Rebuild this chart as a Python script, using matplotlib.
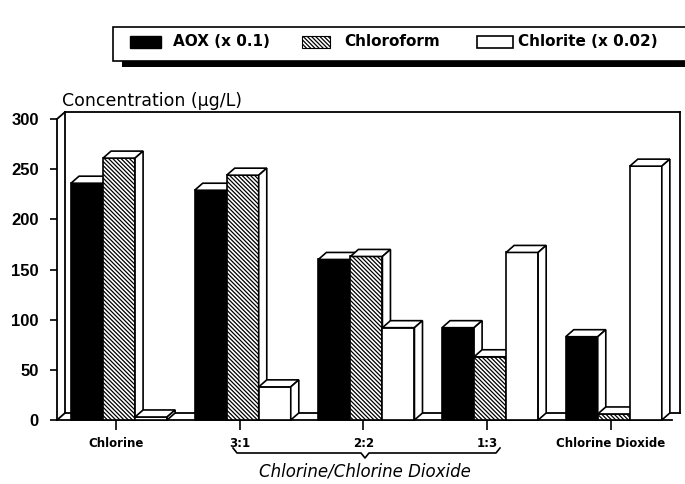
import numpy as np
import matplotlib
matplotlib.use("Agg")
import matplotlib.pyplot as plt
from matplotlib.patches import Polygon, Rectangle

plt.rcParams['font.family'] = ['DejaVu Sans']
plt.rcParams['hatch.linewidth'] = 0.9

# data
categories = ['Chlorine', '3:1', '2:2', '1:3', 'Chlorine Dioxide']
aox = [236, 229, 160, 92, 83]           # AOX (x 0.1)
chloroform = [261, 244, 163, 63, 6]
chlorite = [3, 33, 92, 167, 253]         # Chlorite (x 0.02)
series_names = ['AOX (x 0.1)', 'Chloroform', 'Chlorite (x 0.02)']

fig = plt.figure(figsize=(6.85, 4.84), dpi=100)
ax = fig.add_axes([57/685, 64/484, 623/685, 301/484])

x = np.arange(len(categories))
w = 0.259
ddx = 0.065   # 3d depth offset (x, data units)
ddy = 7.0     # 3d depth offset (y)
x0, x1 = -0.477, 4.56
ax.set_xlim(x0, x1)
ax.set_ylim(0, 300)

hatch = '\\\\\\\\\\\\\\\\'
styles = [dict(color='black', hatch=None),
          dict(color='white', hatch=hatch),
          dict(color='white', hatch=None)]

for j, vals in enumerate([aox, chloroform, chlorite]):
    lefts = x - 0.364 + j * w
    st = styles[j]
    ax.bar(lefts, vals, width=w, align='edge', color=st['color'],
           edgecolor='black', hatch=st['hatch'], linewidth=1.2,
           zorder=3 + j, clip_on=False)
    for l, h in zip(lefts, vals):
        top = Polygon([(l, h), (l + w, h), (l + w + ddx, h + ddy), (l + ddx, h + ddy)],
                      closed=True, fc='white', ec='black', lw=1.2, zorder=3 + j,
                      clip_on=False)
        side = Polygon([(l + w, 0), (l + w + ddx, ddy), (l + w + ddx, h + ddy), (l + w, h)],
                       closed=True, fc='white', ec='black', lw=1.2, zorder=3 + j,
                       clip_on=False)
        ax.add_patch(top)
        ax.add_patch(side)

# 3d frame: back wall and floor
kw = dict(color='black', lw=1.3, clip_on=False, zorder=1)
ax.plot([x0 + ddx, x0 + ddx], [ddy, 300 + ddy], **kw)
ax.plot([x0, x0 + ddx], [300, 300 + ddy], **kw)
ax.plot([x0 + ddx, x1], [300 + ddy, 300 + ddy], **kw)
ax.plot([x0 + ddx, x1], [ddy, ddy], **kw)
ax.plot([x0, x0 + ddx], [0, ddy], **kw)
ax.plot([x1, x1], [ddy, 300 + ddy], **kw)
ax.plot([x0, x1 - ddx], [0, 0], **kw)

for s in ['top', 'right', 'bottom']:
    ax.spines[s].set_visible(False)
ax.spines['left'].set_linewidth(1.3)

ax.set_yticks(np.arange(0, 301, 50))
ax.tick_params(axis='y', direction='out', length=5, width=1.2, pad=8)
for t in ax.get_yticklabels():
    t.set_family(['Liberation Sans', 'DejaVu Sans'])
    t.set_fontweight('bold')
    t.set_fontsize(12)
ax.set_xticks(x)
ax.set_xticklabels(categories, fontsize=8.5, fontweight='bold')
ax.tick_params(axis='x', direction='out', length=7, width=1.2, pad=5)

ax.text(x0 + 0.04, 309, 'Concentration (μg/L)', fontsize=12.5, ha='left', va='bottom')

# overlay in pixel coordinates for legend and brace
ov = fig.add_axes([0, 0, 1, 1])
ov.set_xlim(0, 685)
ov.set_ylim(484, 0)
ov.axis('off')

# legend box with shadow
ov.add_patch(Rectangle((122, 60), 570, 7, fc='black', ec='none', zorder=1))
ov.add_patch(Rectangle((113, 27), 580, 34, fc='white', ec='black', lw=1.2, zorder=2))
ov.add_patch(Rectangle((130, 36), 31, 12, fc='black', ec='black', lw=1, zorder=3))
ov.text(173, 42, series_names[0], fontsize=11, fontweight='bold', va='center', zorder=3)
ov.add_patch(Rectangle((302, 36), 28, 12, fc='white', ec='black', lw=0.8,
                       hatch=hatch, zorder=3))
ov.text(344, 42, series_names[1], fontsize=11, fontweight='bold', va='center', zorder=3)
ov.add_patch(Rectangle((477, 36), 36, 12, fc='white', ec='black', lw=1.2, zorder=3))
ov.text(518, 42, series_names[2], fontsize=11, fontweight='bold', va='center', zorder=3)

# brace under mixed ratios
bx = [233, 237, 361, 365, 369, 496, 500]
by = [448, 453, 453, 458, 453, 453, 448]
ov.plot(bx, by, color='black', lw=1.2)
ov.text(365, 472, 'Chlorine/Chlorine Dioxide', fontsize=12, fontstyle='italic',
        ha='center', va='center')

fig.savefig('out.png', dpi=100)
